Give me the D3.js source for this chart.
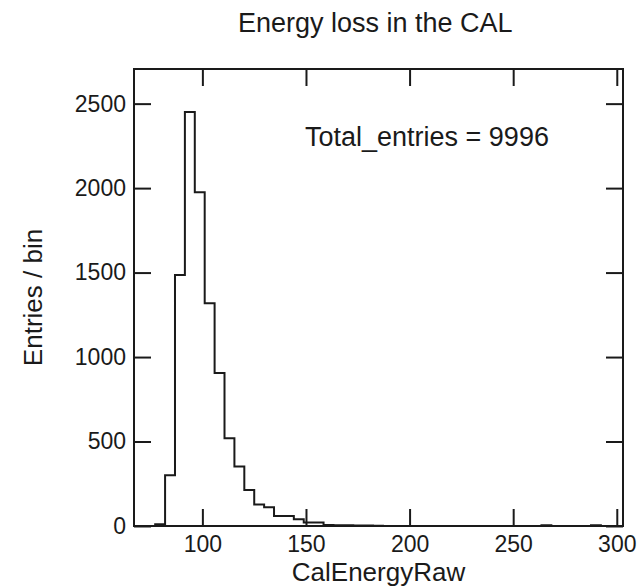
<!DOCTYPE html>
<html>
<head>
<meta charset="utf-8">
<script src="https://cdn.jsdelivr.net/npm/d3@7"></script>
<style>
  html, body { margin: 0; padding: 0; background: #fff; }
  svg { display: block; }
  text { font-family: "Liberation Sans", Arial, Helvetica, sans-serif; fill: #1a1a1a; }
</style>
</head>
<body>
<svg id="chart" width="638" height="588"></svg>
<script>
// Histogram of raw calorimeter energy: fixed-width bins
const binStart = 67.66;
const binWidth = 4.78;
const binCounts = [
  0, 0, 10, 301, 1485, 2450, 1975, 1318, 905, 519,
  352, 213, 128, 111, 59, 59, 40, 20, 20, 6,
  5, 4, 3, 3, 2, 0, 0, 0, 0, 0,
  0, 0, 0, 0, 0, 0, 0, 0, 0, 0,
  0, 4, 0, 0, 0, 0, 4, 0, 0
];
const xTicks = [100, 150, 200, 250, 300];
const yTicks = [0, 500, 1000, 1500, 2000, 2500];
const xDomain = [67, 303];
const yDomain = [0, 2705];
const totalEntries = d3.sum(binCounts);

const svg = d3.select("#chart");
const frame = { left: 134, right: 623, top: 69, bottom: 526 };
const tickLen = 17;

const x = d3.scaleLinear().domain(xDomain).range([frame.left, frame.right]);
const y = d3.scaleLinear().domain(yDomain).range([frame.bottom, frame.top]);

const axisStyle = g => {
  g.select(".domain").remove();
  g.selectAll(".tick line").attr("stroke", "#1a1a1a").attr("stroke-width", 2);
  g.selectAll(".tick text").attr("fill", "#1a1a1a").style("font-size", "23px");
};

// Bottom axis with labels, ticks pointing inward
svg.append("g")
  .attr("transform", `translate(0,${frame.bottom})`)
  .call(d3.axisBottom(x).tickValues(xTicks).tickSize(-tickLen).tickPadding(8).tickFormat(d3.format("d")))
  .call(axisStyle)
  .call(g => g.selectAll(".tick text").attr("dy", "0.78em"));

// Top mirror ticks
svg.append("g")
  .attr("transform", `translate(0,${frame.top})`)
  .call(d3.axisTop(x).tickValues(xTicks).tickSize(-tickLen).tickFormat(""))
  .call(axisStyle);

// Left axis with labels
svg.append("g")
  .attr("transform", `translate(${frame.left},0)`)
  .call(d3.axisLeft(y).tickValues(yTicks).tickSize(-tickLen).tickPadding(8).tickFormat(d3.format("d")))
  .call(axisStyle);

// Right mirror ticks
svg.append("g")
  .attr("transform", `translate(${frame.right},0)`)
  .call(d3.axisRight(y).tickValues(yTicks).tickSize(-tickLen).tickFormat(""))
  .call(axisStyle);

// Step outline of the histogram
const pts = [{ e: binStart, c: 0 }];
binCounts.forEach((c, i) => pts.push({ e: binStart + i * binWidth, c }));
const lastEdge = binStart + binCounts.length * binWidth;
pts.push({ e: lastEdge, c: binCounts[binCounts.length - 1] });
pts.push({ e: lastEdge, c: 0 });

svg.append("path")
  .datum(pts)
  .attr("fill", "none")
  .attr("stroke", "#1a1a1a")
  .attr("stroke-width", 2)
  .attr("d", d3.line().x(d => x(d.e)).y(d => y(d.c)).curve(d3.curveStepAfter));

// Plot frame
svg.append("rect")
  .attr("x", frame.left).attr("y", frame.top)
  .attr("width", frame.right - frame.left).attr("height", frame.bottom - frame.top)
  .attr("fill", "none").attr("stroke", "#1a1a1a").attr("stroke-width", 2);

// Title
svg.append("text")
  .attr("x", 238).attr("y", 32)
  .style("font-size", "27px")
  .text("Energy loss in the CAL");

// Statistics box text
svg.append("text")
  .attr("x", 305).attr("y", 146)
  .style("font-size", "27px")
  .text(`Total_entries = ${totalEntries}`);

// Axis titles
svg.append("text")
  .attr("x", (frame.left + frame.right) / 2).attr("y", 581)
  .attr("text-anchor", "middle")
  .style("font-size", "26px")
  .text("CalEnergyRaw");

svg.append("text")
  .attr("transform", `translate(42,${(frame.top + frame.bottom) / 2}) rotate(-90)`)
  .attr("text-anchor", "middle")
  .style("font-size", "26px")
  .text("Entries / bin");
</script>
</body>
</html>
